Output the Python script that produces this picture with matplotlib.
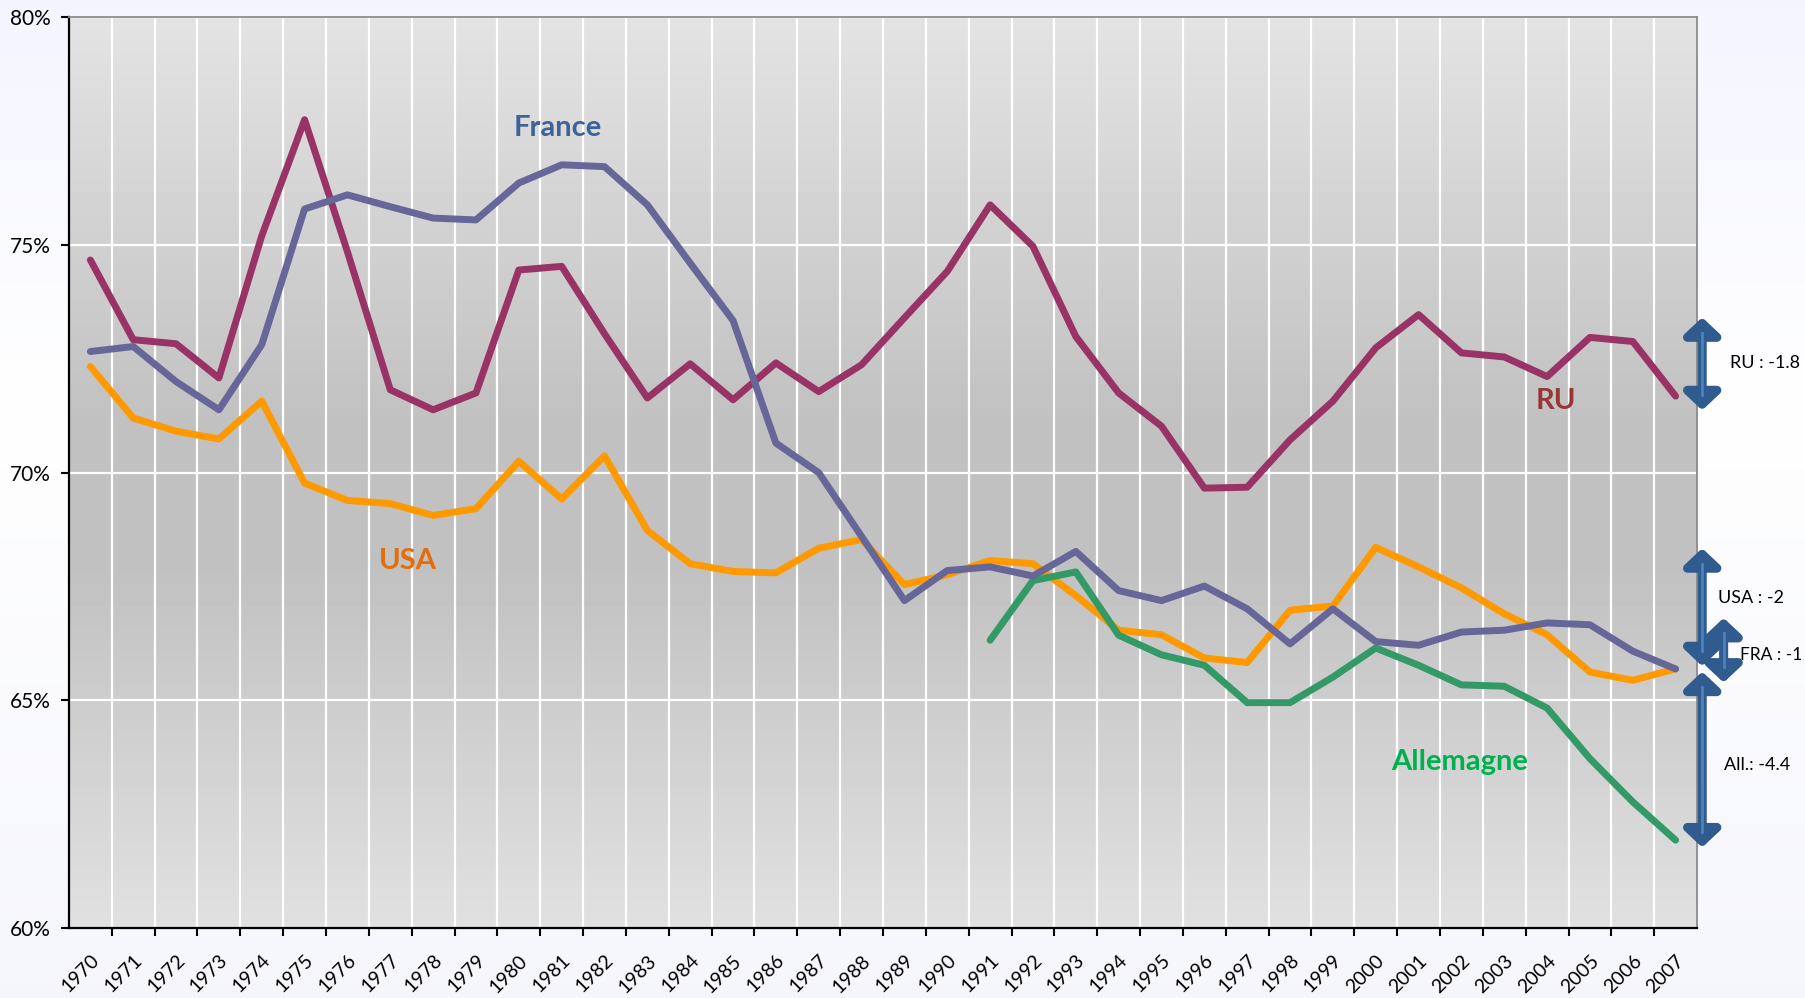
import numpy as np
import matplotlib
matplotlib.use("Agg")
import matplotlib.pyplot as plt
from matplotlib.patches import FancyArrowPatch

plt.rcParams['font.family'] = ['Lato', 'DejaVu Sans']

annees = list(range(1970, 2008))

ru = [74.67, 72.92, 72.83, 72.08, 75.2, 77.75, 74.85, 71.82, 71.38, 71.75,
      74.45, 74.53, 73.05, 71.64, 72.39, 71.60, 72.41, 71.78, 72.37, 73.4,
      74.42, 75.88, 74.97, 72.99, 71.75, 71.02, 69.66, 69.68, 70.72, 71.57,
      72.74, 73.47, 72.63, 72.54, 72.11, 72.97, 72.88, 71.68]

france = [72.66, 72.77, 72.0, 71.38, 72.81, 75.79, 76.10, 75.84, 75.59, 75.55,
          76.36, 76.76, 76.72, 75.88, 74.60, 73.34, 70.65, 70.0, 68.6, 67.19,
          67.85, 67.93, 67.73, 68.27, 67.41, 67.19, 67.51, 67.01, 66.24, 67.01,
          66.29, 66.21, 66.50, 66.54, 66.70, 66.66, 66.08, 65.69]

usa = [72.33, 71.20, 70.91, 70.74, 71.57, 69.77, 69.39, 69.32, 69.06, 69.21,
       70.25, 69.42, 70.37, 68.73, 68.0, 67.83, 67.80, 68.34, 68.53, 67.54,
       67.76, 68.07, 68.0, 67.30, 66.54, 66.44, 65.93, 65.83, 66.98, 67.07,
       68.36, 67.93, 67.47, 66.90, 66.44, 65.62, 65.44, 65.69]

annees_all = list(range(1991, 2008))
allemagne = [66.32, 67.63, 67.82, 66.43, 66.0, 65.77, 64.95, 64.95, 65.51, 66.15,
             65.77, 65.34, 65.31, 64.83, 63.72, 62.77, 61.93]

# flèches d'écart à droite du graphique
fleches_noms = ["RU : -1.8", "USA : -2", "FRA : -1", "All.: -4.4"]
fleches_haut = [73.47, 68.40, 66.87, 65.69]
fleches_bas = [71.31, 65.69, 65.33, 61.71]

fig = plt.figure(figsize=(18.05, 9.98), dpi=100)

# fond de la figure (léger dégradé)
bg = fig.add_axes([0, 0, 1, 1], zorder=-10)
grad = np.interp(np.linspace(0, 1, 200), [0, 0.4, 1], [0, 1, 0.4])
c_haut = np.array([0.955, 0.96, 1.0])
c_bas = np.array([0.94, 0.945, 0.98])
rgb = np.zeros((200, 1, 3))
for i, g in enumerate(grad):
    base = c_haut if i < 80 else c_bas
    rgb[i, 0] = base + (1 - base) * g
bg.imshow(rgb, aspect='auto', extent=[0, 1, 0, 1])
bg.axis('off')

ax = fig.add_axes([0.0382, 0.0701, 0.9020, 0.9126])
ax.set_xlim(1969.5, 2007.5)
ax.set_ylim(60, 80)

# dégradé gris du fond du graphique
yy = np.linspace(0, 1, 300)
gris = np.interp(yy, [0, 0.45, 0.6, 1], [0.89, 0.755, 0.755, 0.88])
ax.imshow(gris[:, None], cmap='gray', vmin=0, vmax=1, aspect='auto',
          extent=[1969.5, 2007.5, 60, 80], origin='upper', zorder=-1)

lw = 5
ax.plot(annees, ru, color='#993366', lw=lw, solid_capstyle='round', zorder=3)
ax.plot(annees, france, color='#666699', lw=lw, solid_capstyle='round', zorder=3)
ax.plot(annees, usa, color='#FF9900', lw=lw, solid_capstyle='round', zorder=2)
ax.plot(annees_all, allemagne, color='#339966', lw=lw, solid_capstyle='round', zorder=2)

ax.text(1980.9, 77.57, "France", color='#3D6498', fontsize=21, fontweight='bold', ha='center', va='center')
ax.text(1977.4, 68.07, "USA", color='#E46C0A', fontsize=21, fontweight='bold', ha='center', va='center')
ax.text(2004.2, 71.58, "RU", color='#953735', fontsize=21, fontweight='bold', ha='center', va='center')
ax.text(2001.95, 63.64, "Allemagne", color='#00B050', fontsize=21, fontweight='bold', ha='center', va='center')

# axes
ax.set_yticks([60, 65, 70, 75, 80])
ax.set_yticklabels(["60%", "65%", "70%", "75%", "80%"], fontsize=15)
ax.set_xticks(annees)
ax.set_xticklabels([str(a) for a in annees], rotation=45, ha='right',
                   rotation_mode='anchor', fontsize=14)
ax.set_xticks(np.arange(1970.5, 2007.5, 1), minor=True)
ax.tick_params(axis='x', which='major', length=0, pad=17)
ax.tick_params(axis='x', which='minor', length=6, width=1.5, direction='out')
ax.tick_params(axis='y', length=6, width=1.5, pad=7)
ax.set_axisbelow(True)
ax.grid(axis='y', color='white', lw=1.6)
ax.grid(axis='x', which='minor', color='white', lw=1.6)

for s in ['left', 'bottom']:
    ax.spines[s].set_color('black')
    ax.spines[s].set_linewidth(1.6)
for s in ['top', 'right']:
    ax.spines[s].set_color('#8C8C8C')
    ax.spines[s].set_linewidth(1.3)

# flèches doubles
fleches_x = [2007.62, 2007.62, 2008.12, 2007.62]
textes_x = [2008.28, 2007.98, 2008.5, 2008.12]
textes_y = [72.41, 67.25, 65.99, 63.57]
tailles = [13, 13, 12.5, 13]
for nom, h, b, fx, tx, ty, t in zip(fleches_noms, fleches_haut, fleches_bas, fleches_x, textes_x, textes_y, tailles):
    fl = FancyArrowPatch((fx, b), (fx, h), arrowstyle='<|-|>,head_width=0.48,head_length=0.45',
                         mutation_scale=22, color='#2F5B8E', lw=6.5, clip_on=False, zorder=5)
    ax.add_patch(fl)
    ax.plot([fx, fx], [b + 0.4, h - 0.4], color='#4F81BD', lw=2, clip_on=False, zorder=6)
    ax.text(tx, ty, nom, fontsize=t, ha='left', va='center', clip_on=False)

fig.savefig("out.png", dpi=100, facecolor=fig.get_facecolor())
